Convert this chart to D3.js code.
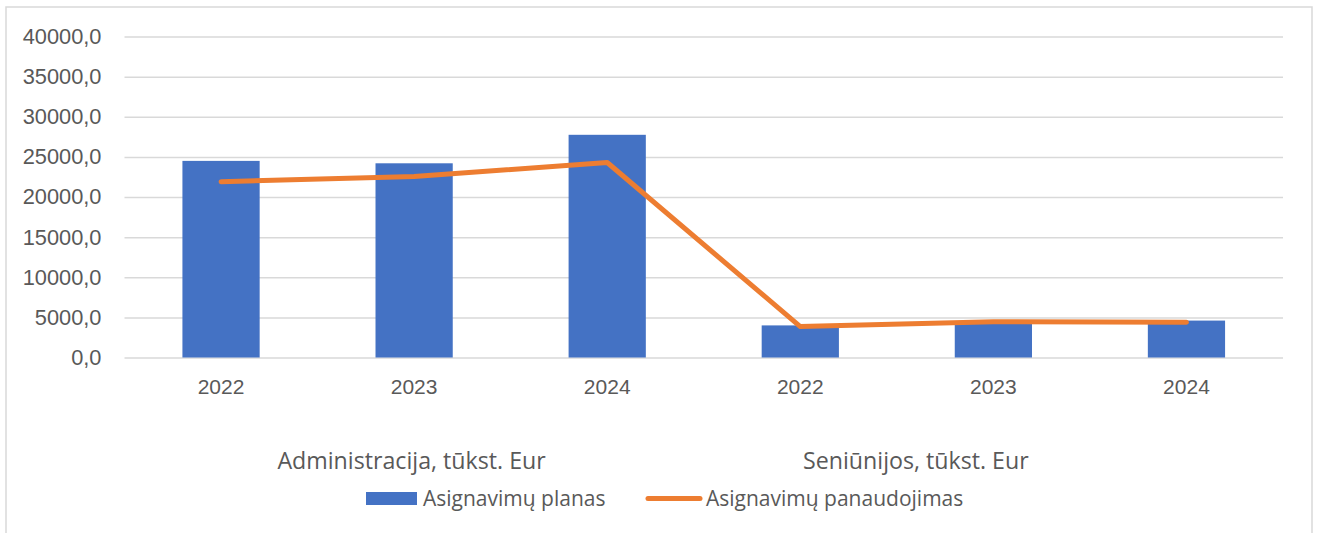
<!DOCTYPE html>
<html lang="lt">
<head>
  <meta charset="UTF-8">
  <title>Asignavimai</title>
  <style>
    html, body { margin: 0; padding: 0; background: #fff; }
    svg { display: block; font-family: "Open Sans", sans-serif; }
    .tick text { fill: #595959; }
  </style>
</head>
<body>
  <script src="https://cdn.jsdelivr.net/npm/d3@7"></script>
  <script>
    const years = ['2022', '2023', '2024', '2022', '2023', '2024'];
    const groups = ['Administracija, tūkst. Eur', 'Seniūnijos, tūkst. Eur'];
    const planas = [24500, 24200, 27750, 4000, 4500, 4600];
    const panaudojimas = [21900, 22550, 24300, 3850, 4450, 4400];
    const yTicks = [0, 5000, 10000, 15000, 20000, 25000, 30000, 35000, 40000];

    const W = 1318, H = 533;
    const m = { left: 124.5, right: 1283, top: 36.5, bottom: 357.5 };
    const textCol = '#595959', gridCol = '#d9d9d9';

    const svg = d3.select('body').append('svg').attr('width', W).attr('height', H);

    // outer chart border (bottom edge is off-screen)
    svg.append('rect')
      .attr('x', 6).attr('y', 7).attr('width', 1306).attr('height', 540)
      .attr('fill', '#fff').attr('stroke', gridCol).attr('stroke-width', 1.5);

    const idx = d3.range(years.length);
    const x = d3.scaleBand().domain(idx).range([m.left, m.right])
      .paddingInner(0.6).paddingOuter(0.3);
    const y = d3.scaleLinear().domain([0, 40000]).range([m.bottom, m.top]);

    // y axis with gridlines
    const yAxis = d3.axisLeft(y).tickValues(yTicks)
      .tickSize(-(m.right - m.left)).tickPadding(23)
      .tickFormat(d => d3.format('.1f')(d).replace('.', ','));
    svg.append('g').attr('transform', `translate(${m.left},0)`).call(yAxis)
      .call(g => g.select('.domain').remove())
      .call(g => g.selectAll('.tick line').attr('stroke', gridCol).attr('stroke-width', 1.5))
      .call(g => g.selectAll('.tick text').attr('font-size', 21.8).attr('fill', textCol));

    // bars
    svg.append('g').selectAll('rect').data(planas).join('rect')
      .attr('x', (d, i) => x(i))
      .attr('y', d => y(d))
      .attr('width', x.bandwidth())
      .attr('height', d => y(0) - y(d))
      .attr('fill', '#4472c4');

    // line
    const line = d3.line().x((d, i) => x(i) + x.bandwidth() / 2).y(d => y(d));
    svg.append('path').datum(panaudojimas)
      .attr('d', line)
      .attr('fill', 'none')
      .attr('stroke', '#ed7d31')
      .attr('stroke-width', 5)
      .attr('stroke-linejoin', 'round')
      .attr('stroke-linecap', 'round');

    // x axis labels (years)
    const xAxis = d3.axisBottom(x).tickSize(0).tickPadding(22).tickFormat(i => years[i]);
    svg.append('g').attr('transform', `translate(0,${m.bottom})`).call(xAxis)
      .call(g => g.select('.domain').remove())
      .call(g => g.selectAll('.tick text').attr('font-size', 21).attr('fill', textCol));

    // group labels
    const groupX = [x(1) + x.bandwidth() / 2 - 2.5, x(4) + x.bandwidth() / 2 - 77.5];
    svg.append('g').selectAll('text').data(groups).join('text')
      .attr('x', (d, i) => groupX[i])
      .attr('y', 469)
      .attr('text-anchor', 'middle')
      .attr('font-size', 23.2)
      .attr('fill', textCol)
      .text(d => d);

    // legend
    const lg = svg.append('g');
    lg.append('rect').attr('x', 366).attr('y', 492).attr('width', 51).attr('height', 13).attr('fill', '#4472c4');
    lg.append('text').attr('x', 423).attr('y', 506).attr('font-size', 21).attr('fill', textCol).text('Asignavimų planas');
    lg.append('line').attr('x1', 648).attr('x2', 700).attr('y1', 498.5).attr('y2', 498.5)
      .attr('stroke', '#ed7d31').attr('stroke-width', 5).attr('stroke-linecap', 'round');
    lg.append('text').attr('x', 706).attr('y', 506).attr('font-size', 21).attr('fill', textCol).text('Asignavimų panaudojimas');
  </script>
</body>
</html>
